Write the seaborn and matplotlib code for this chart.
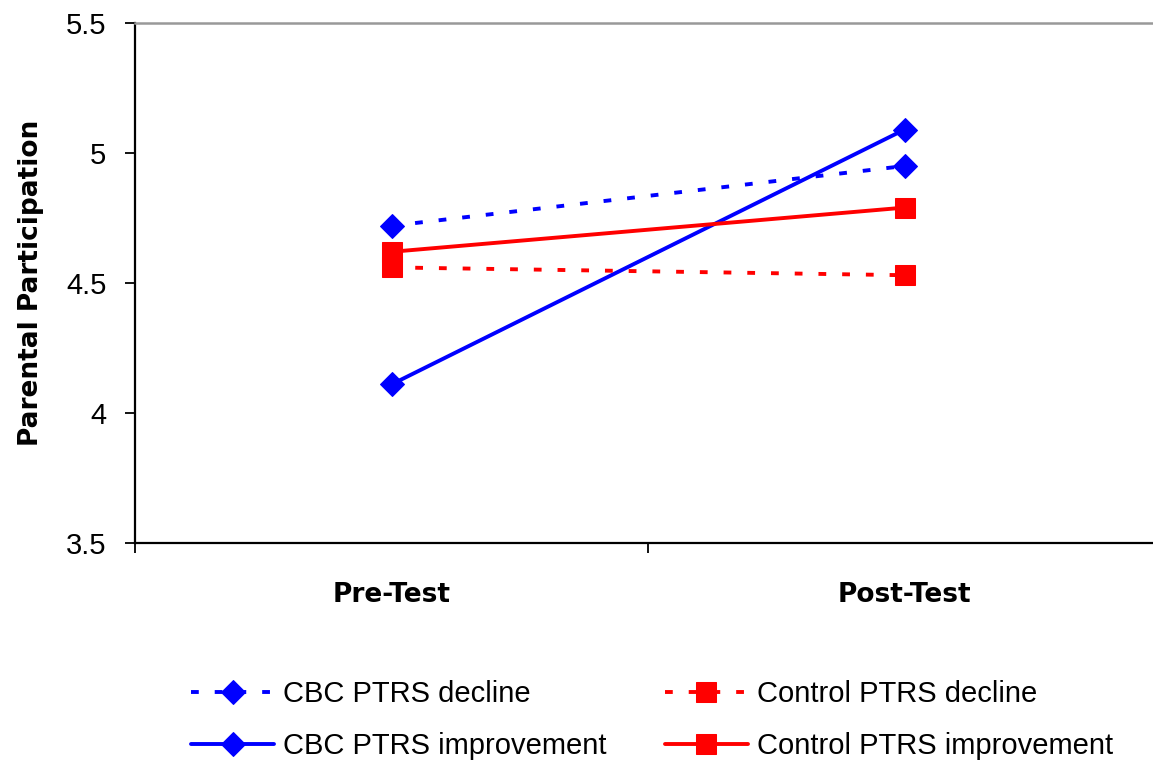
import matplotlib
matplotlib.use("Agg")
import matplotlib.pyplot as plt
import seaborn as sns
import pandas as pd

# data
phases = ["Pre-Test", "Post-Test"]
cbc_decline = [4.72, 4.95]
cbc_improvement = [4.11, 5.09]
control_decline = [4.56, 4.53]
control_improvement = [4.62, 4.79]
series_names = ["CBC PTRS decline", "CBC PTRS improvement",
                "Control PTRS decline", "Control PTRS improvement"]
y_ticks = [3.5, 4, 4.5, 5, 5.5]
y_tick_labels = ["3.5", "4", "4.5", "5", "5.5"]

sns.set_style("white")
plt.rcParams["font.family"] = ["Liberation Sans", "DejaVu Sans"]
plt.rcParams["text.color"] = "black"
plt.rcParams["axes.labelcolor"] = "black"
plt.rcParams["xtick.color"] = "black"
plt.rcParams["ytick.color"] = "black"

fig = plt.figure(figsize=(11.53, 7.62), dpi=100)
ax = fig.add_axes([135 / 1153, 219 / 762, 1026 / 1153, 520 / 762])

dash = (0, (2.0, 4.1))
styles = {
    "CBC PTRS decline": dict(color="#0000FF", marker="D", ms=12, ls=dash),
    "CBC PTRS improvement": dict(color="#0000FF", marker="D", ms=12, ls="-"),
    "Control PTRS decline": dict(color="#FF0000", marker="s", ms=14, ls=dash),
    "Control PTRS improvement": dict(color="#FF0000", marker="s", ms=14, ls="-"),
}
values = [cbc_decline, cbc_improvement, control_decline, control_improvement]

for name, vals in zip(series_names, values):
    df = pd.DataFrame({"phase": phases, "score": vals})
    st = styles[name]
    sns.lineplot(data=df, x="phase", y="score", ax=ax, color=st["color"],
                 marker=st["marker"], markersize=st["ms"], linestyle=st["ls"],
                 linewidth=2.8, markeredgecolor=st["color"], label=name)

# axis titles / category labels are a medium-heavy, fairly wide face
label_font = dict(family=["DejaVu Sans"], weight="bold", size=19)

ax.set_ylim(3.5, 5.5)
ax.set_yticks(y_ticks)
ax.set_yticklabels(y_tick_labels)
ax.set_xlim(-0.5, 1.5)
ax.set_xticks([-0.5, 0.5, 1.5])
ax.set_xticklabels([])
ax.set_xticks([0, 1], minor=True)
ax.set_xticklabels(phases, minor=True, fontdict=label_font)
ax.tick_params(axis="x", which="minor", length=0, pad=28)
ax.tick_params(axis="x", which="major", direction="out", length=7.5, width=1.3, bottom=True)
ax.tick_params(axis="y", direction="out", length=7.5, width=1.3, left=True, labelsize=21, pad=13)

ax.set_xlabel("")
ax.set_ylabel("Parental Participation", fontdict=label_font, labelpad=16)

for side in ["left", "bottom"]:
    ax.spines[side].set_color("black")
    ax.spines[side].set_linewidth(1.6)
ax.spines["top"].set_color("#999999")
ax.spines["top"].set_linewidth(1.8)
ax.spines["right"].set_visible(False)

handles, labels = ax.get_legend_handles_labels()
ax.get_legend().remove()
fig.legend(handles, labels, ncol=2, loc="center", bbox_to_anchor=(0.5655, 0.055),
           frameon=False, fontsize=21, handlelength=2.85, handletextpad=0.3,
           columnspacing=2.0, labelspacing=0.8)

fig.savefig("out.png", dpi=100)
